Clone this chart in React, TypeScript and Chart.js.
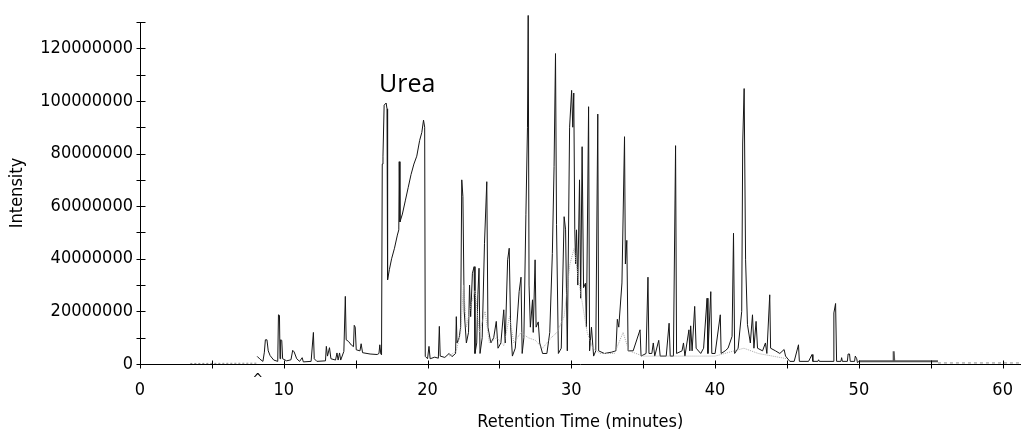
import React, { useEffect, useRef } from "react";
import { Chart, registerables } from "chart.js";

Chart.register(...registerables);

// Chromatogram trace, [retention time (min), intensity (millions)]
const leadBaseline: [number, number][] = [[3.5, 0.2], [8.2, 0.3]];

const earlyPeaks: [number, number][] = [
  [8.15, 2.9], [8.35, 1.8], [8.55, 1.0], [8.65, 4.5], [8.72, 9.2], [8.83, 9.2], [8.92, 5.0], [9.05, 3.2],
  [9.3, 1.5], [9.58, 1.0], [9.63, 18.7], [9.7, 18.5], [9.74, 2.0], [9.78, 9.2], [9.86, 9.0], [9.92, 2.0],
  [10.2, 1.2], [10.5, 1.6], [10.62, 5.2], [10.72, 4.6], [10.9, 2.0], [11.1, 1.0], [11.28, 2.4], [11.36, 0.8],
  [11.9, 1.0], [12.06, 12.0], [12.12, 2.0], [12.3, 1.0], [12.9, 1.2], [12.96, 6.7], [13.04, 3.0], [13.18, 6.2],
  [13.28, 2.0], [13.6, 1.5], [13.7, 4.2], [13.78, 1.5], [13.88, 4.2], [13.96, 1.5], [14.18, 4.8], [14.28, 25.7],
  [14.34, 9.2], [14.5, 8.6], [14.7, 7.2], [14.85, 6.6], [14.9, 14.7], [14.97, 14.0], [15.04, 5.4], [15.3, 5.0],
  [15.38, 7.7], [15.48, 4.3], [16.0, 3.8], [16.5, 3.6], [16.62, 4.0], [16.68, 7.3], [16.75, 3.8], [16.8, 3.5],
];

const ureaPeak: [number, number][] = [
  [16.85, 76], [16.9, 79], [16.98, 98.4], [17.12, 99.2], [17.18, 97], [17.22, 32], [17.35, 36], [17.5, 40],
  [17.7, 44], [17.9, 49], [18.0, 51], [18.03, 76.9], [18.08, 54], [18.25, 57], [18.45, 62], [18.65, 67],
  [18.85, 72], [19.05, 76], [19.25, 79], [19.45, 85], [19.6, 88], [19.72, 92.7], [19.8, 90], [19.84, 2.9],
];

const densePeaks: [number, number][] = [
  [20.0, 2.0], [20.1, 6.7], [20.18, 2.0], [20.5, 2.6], [20.75, 2.2], [20.82, 14.3], [20.88, 3.0], [21.2, 2.5],
  [21.5, 4.0], [21.7, 2.8], [21.95, 4.0], [22.0, 18.0], [22.05, 8.0], [22.2, 10.0], [22.3, 14.0], [22.38, 70.0],
  [22.46, 63.6], [22.55, 20.0], [22.7, 8.0], [22.85, 12.0], [22.92, 30.0], [23.0, 18.0], [23.12, 34.5], [23.24, 37.0],
  [23.3, 4.0], [23.42, 8.0], [23.5, 26.3], [23.58, 36.4], [23.65, 4.0], [23.8, 10.0], [23.96, 45.9], [24.12, 69.3],
  [24.2, 14.0], [24.4, 8.0], [24.6, 10.0], [24.78, 16.2], [24.9, 6.0], [25.1, 8.0], [25.3, 20.6], [25.4, 8.0],
  [25.57, 39.6], [25.68, 44.0], [25.78, 14.0], [25.9, 3.0], [26.1, 6.0], [26.37, 27.5], [26.5, 33.0], [26.58, 4.0],
  [26.7, 10.0], [26.84, 56.7], [26.95, 90.0], [27.0, 132.5], [27.06, 30.0], [27.15, 14.0], [27.3, 24.4], [27.35, 12.0],
  [27.48, 39.6], [27.55, 14.0], [27.7, 16.0], [27.8, 8.0], [28.0, 4.0], [28.3, 4.0], [28.5, 12.0], [28.68, 42.0],
  [28.8, 75.0], [28.9, 118.0], [28.97, 53.0], [29.1, 4.0], [29.3, 6.0], [29.5, 56.0], [29.6, 51.0], [29.72, 5.0],
  [29.88, 90.0], [30.02, 104.0], [30.1, 90.0], [30.17, 103.0], [30.24, 51.0], [30.3, 38.0], [30.36, 51.0], [30.45, 30.0],
  [30.57, 70.0], [30.65, 25.0], [30.75, 82.6], [30.85, 29.0], [30.98, 30.7], [31.05, 14.0], [31.2, 97.8], [31.27, 5.0],
  [31.4, 14.0], [31.55, 3.0], [31.7, 5.0], [31.84, 95.0], [31.9, 5.0], [32.3, 4.0], [32.8, 4.5], [33.1, 5.0],
  [33.2, 17.0], [33.3, 14.0], [33.52, 30.8], [33.7, 86.4], [33.76, 38.0], [33.86, 47.0], [33.95, 5.0], [34.3, 5.0],
  [34.78, 13.0], [34.85, 3.0], [35.2, 4.0], [35.33, 33.0], [35.4, 4.0], [35.6, 4.0], [35.7, 8.0], [35.8, 3.0],
  [36.08, 9.0], [36.18, 3.0], [36.6, 3.0], [36.8, 15.5], [36.88, 3.0], [37.1, 3.0], [37.25, 83.0], [37.32, 4.0],
  [37.7, 5.0], [37.8, 8.0], [37.9, 3.0], [38.18, 13.0], [38.24, 5.0], [38.3, 14.5], [38.4, 5.0], [38.58, 21.9],
  [38.68, 6.0], [39.0, 4.0], [39.2, 6.0], [39.44, 25.0], [39.5, 4.0], [39.7, 27.5], [39.77, 4.0], [40.0, 4.0],
  [40.36, 18.7], [40.42, 4.0], [40.7, 5.0], [40.9, 6.0], [41.18, 10.5], [41.28, 49.7], [41.36, 4.0], [41.6, 6.0],
  [41.85, 20.0], [41.92, 84.0], [42.02, 104.7], [42.12, 39.6], [42.25, 15.0], [42.45, 8.0], [42.6, 18.7], [42.7, 6.0],
  [42.85, 16.2], [42.95, 6.0], [43.3, 5.0], [43.5, 8.0], [43.6, 4.0], [43.8, 26.3], [43.86, 6.0], [44.2, 5.0],
  [44.5, 4.0], [44.8, 5.5], [44.9, 3.0], [45.2, 1.0],
];

const latePeaks: [number, number][] = [
  [45.5, 1.0], [45.8, 7.3], [45.86, 1.0], [46.5, 1.0], [46.74, 3.6], [46.8, 1.0], [47.15, 1.0], [47.2, 1.6],
  [47.25, 1.0], [48.2, 1.0], [48.26, 19.4], [48.38, 23.0], [48.45, 1.0], [48.75, 1.0], [48.8, 2.4], [48.85, 1.0],
  [49.2, 1.0], [49.25, 3.8], [49.35, 3.8], [49.4, 1.0], [49.7, 1.0], [49.75, 3.0], [49.85, 2.0], [49.9, 0.5],
  [50.0, 1.0],
];

// Unresolved hump underneath the dense region (lighter trace)
const underTrace: [number, number][] = [
  [21.5, 3], [22.0, 5], [22.3, 12], [22.5, 30], [22.7, 14], [23.0, 22], [23.3, 28], [23.6, 12],
  [24.0, 20], [24.3, 8], [24.8, 10], [25.3, 7], [25.7, 18], [26.0, 8], [26.5, 12], [27.0, 10],
  [27.5, 9], [28.0, 6], [28.6, 10], [29.0, 12], [29.5, 18], [29.9, 38], [30.2, 44], [30.5, 32],
  [30.8, 22], [31.1, 12], [31.5, 6], [32.0, 4], [33.0, 4], [33.6, 12], [34.0, 5], [35.0, 3],
  [38.0, 3], [40.0, 3], [42.0, 6], [43.0, 4], [45.0, 2],
];

const plateauTrace: [number, number][] = [[50.0, 1.0], [52.38, 1.0], [52.42, 4.8], [52.46, 1.0], [55.5, 1.0]];
const tailBaseline: [number, number][] = [[55.5, 0.4], [61.25, 0.4]];

const xTickValues = [0, 5, 10, 15, 20, 25, 30, 35, 40, 45, 50, 55, 60];
const yTickValues = [0, 1e7, 2e7, 3e7, 4e7, 5e7, 6e7, 7e7, 8e7, 9e7, 1e8, 1.1e8, 1.2e8, 1.3e8];

const ureaLabel = { text: "Urea", t: 16.63, value: 103.5e6 };
const injectionMark = { text: "^", t: 8.2 };

const FONT = '"DejaVu Sans Condensed", "DejaVu Sans", sans-serif';

const toPoints = (rows: [number, number][]) => rows.map(([t, v]) => ({ x: t, y: v * 1e6 }));

const axisMarks = {
  id: "axisMarks",
  afterDraw(chart: any) {
    const { ctx, scales } = chart;
    const xs = scales.x;
    const ys = scales.y;
    const x0 = Math.round(xs.getPixelForValue(0)) + 0.5;
    const y0 = Math.round(ys.getPixelForValue(0)) + 0.5;
    ctx.save();
    ctx.strokeStyle = "#000";
    ctx.lineWidth = 1;
    ctx.beginPath();
    for (const v of xTickValues) {
      const px = Math.round(xs.getPixelForValue(v)) + 0.5;
      ctx.moveTo(px, y0 - 4);
      ctx.lineTo(px, y0 + 4);
    }
    for (const v of yTickValues) {
      const py = Math.round(ys.getPixelForValue(v)) + 0.5;
      ctx.moveTo(x0 - 4, py);
      ctx.lineTo(x0 + 5, py);
    }
    ctx.stroke();

    ctx.fillStyle = "#000";
    ctx.font = '25px "Open Sans", sans-serif';
    ctx.textAlign = "left";
    ctx.textBaseline = "alphabetic";
    ctx.fillText(ureaLabel.text, xs.getPixelForValue(ureaLabel.t), ys.getPixelForValue(ureaLabel.value));

    ctx.font = `14px ${FONT}`;
    ctx.textAlign = "center";
    ctx.fillText(injectionMark.text, xs.getPixelForValue(injectionMark.t), y0 + 19);
    ctx.restore();
  },
};

export default function App() {
  const canvasRef = useRef<HTMLCanvasElement | null>(null);

  useEffect(() => {
    const canvas = canvasRef.current;
    if (!canvas) return;
    const mainTrace = [...earlyPeaks, ...ureaPeak, ...densePeaks, ...latePeaks];
    const chart = new Chart(canvas, {
      type: "line",
      data: {
        datasets: [
          {
            data: toPoints(leadBaseline),
            borderColor: "#8a8a8a",
            borderWidth: 1,
            borderDash: [2, 2],
          },
          {
            data: toPoints(underTrace),
            borderColor: "#a8a8a8",
            borderWidth: 1,
            borderDash: [1, 1],
          },
          {
            data: toPoints(mainTrace),
            borderColor: "#151515",
            borderWidth: 1,
            clip: false,
          },
          {
            data: toPoints(plateauTrace),
            borderColor: "#555",
            borderWidth: 2,
          },
          {
            data: toPoints(tailBaseline),
            borderColor: "#8a8a8a",
            borderWidth: 1,
            borderDash: [3, 3],
          },
        ] as any,
      },
      options: {
        animation: false,
        responsive: false,
        maintainAspectRatio: false,
        layout: { padding: { left: 0, right: 2, top: 22, bottom: 0 } },
        elements: { point: { radius: 0 }, line: { tension: 0 } },
        plugins: { legend: { display: false }, tooltip: { enabled: false } },
        scales: {
          x: {
            type: "linear",
            min: 0,
            max: 61.25,
            afterBuildTicks: (s: any) => {
              s.ticks = xTickValues.map((v) => ({ value: v }));
            },
            afterFit: (s: any) => {
              s.height = 70;
            },
            grid: { display: false, drawTicks: false },
            border: { display: true, color: "#000", width: 1 },
            ticks: {
              autoSkip: false,
              maxRotation: 0,
              padding: 16,
              color: "#000",
              font: { family: FONT, size: 18 },
              callback: (v: any) => (Number(v) % 10 === 0 ? String(v) : ""),
            },
            title: {
              display: true,
              text: "Retention Time (minutes)",
              color: "#000",
              font: { family: FONT, size: 18 },
              padding: { top: 0, bottom: 1 },
            },
          },
          y: {
            type: "linear",
            min: 0,
            max: 130000000,
            afterBuildTicks: (s: any) => {
              s.ticks = yTickValues.map((v) => ({ value: v }));
            },
            afterFit: (s: any) => {
              s.width = 140;
            },
            grid: { display: false, drawTicks: false },
            border: { display: true, color: "#000", width: 1 },
            ticks: {
              autoSkip: false,
              padding: 7,
              color: "#000",
              font: { family: FONT, size: 18 },
              callback: (v: any) => (Math.round(Number(v) / 1e7) % 2 === 0 ? String(Math.round(Number(v))) : ""),
            },
            title: {
              display: true,
              text: "Intensity",
              color: "#000",
              font: { family: FONT, size: 18 },
              padding: { top: 7, bottom: 0 },
            },
          },
        },
      },
      plugins: [axisMarks],
    });
    return () => chart.destroy();
  }, []);

  return (
    <div style={{ position: "absolute", left: 0, top: 0, width: 1029, height: 434, background: "#fff" }}>
      <canvas ref={canvasRef} width={1029} height={434} style={{ display: "block" }} />
    </div>
  );
}
